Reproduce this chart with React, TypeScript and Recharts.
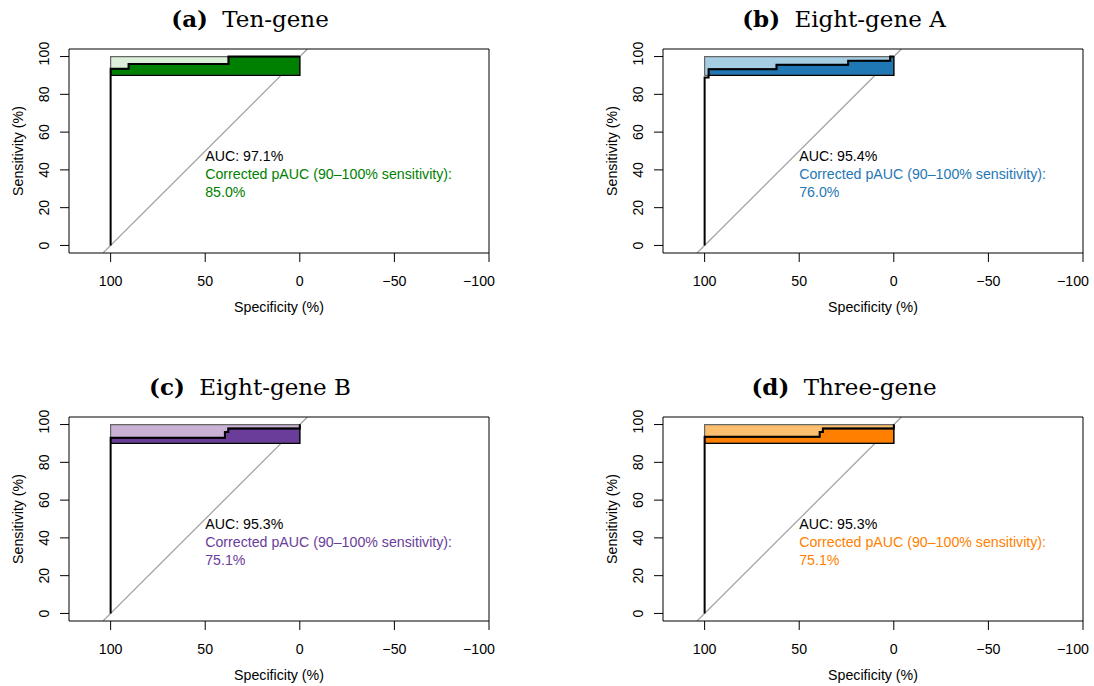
import {
  ComposedChart,
  Area,
  Line,
  XAxis,
  YAxis,
  ReferenceArea,
  ReferenceDot,
} from "recharts";

// axes
const SPEC_TICKS = [100, 50, 0, -50, -100];
const SENS_TICKS = [0, 20, 40, 60, 80, 100];
const SPEC_DOMAIN = [-100, 122];
const SENS_DOMAIN = [-4, 104];

// partial AUC band (sensitivity) and specificity span of the shaded box
const PAUC_LOW = 90;
const PAUC_HIGH = 100;
const SPEC_FULL = 100;
const SPEC_NONE = 0;

// ROC curves (specificity %, sensitivity %)
const TEN_SPEC = [100, 100, 90.5, 90.5, 37.7, 37.7, 0];
const TEN_SENS = [0, 93.5, 93.5, 96.1, 96.1, 100, 100];

const EIGHT_A_SPEC = [100, 100, 97.9, 97.9, 62, 62, 24.1, 24.1, 1.9, 1.9, 0];
const EIGHT_A_SENS = [0, 88.9, 88.9, 93.3, 93.3, 95.6, 95.6, 97.8, 97.8, 100, 100];

const EIGHT_B_SPEC = [100, 100, 39.6, 39.6, 37.8, 37.8, 0, 0];
const EIGHT_B_SENS = [0, 93, 93, 96, 96, 97.9, 97.9, 100];

const THREE_SPEC = [100, 100, 39.2, 39.2, 37.5, 37.5, 0, 0];
const THREE_SENS = [0, 93.5, 93.5, 96.1, 96.1, 97.9, 97.9, 100];

const PANEL_LETTERS = ["a", "b", "c", "d"];
const PANEL_NAMES = ["Ten-gene", "Eight-gene A", "Eight-gene B", "Three-gene"];
const AUC_VALUES = ["97.1", "95.4", "95.3", "95.3"];
const PAUC_VALUES = ["85.0", "76.0", "75.1", "75.1"];
const DARK_COLORS = ["#008000", "#1f78b4", "#6a3d9a", "#ff7f00"];
const LIGHT_COLORS = ["#dcefd8", "#a6cee3", "#cab2d6", "#fdbf6f"];

const SANS = "'Liberation Sans', Arial, sans-serif";
const FS = 14.2;

type Pt = { spec: number; sens: number };

function toPoints(spec: number[], sens: number[]): Pt[] {
  return spec.map((s, i) => ({ spec: s, sens: sens[i] }));
}

// part of the curve that lies inside the sensitivity band
function bandTop(pts: Pt[]): Pt[] {
  const out: Pt[] = [];
  pts.forEach((p, i) => {
    if (p.sens < PAUC_LOW) return;
    const prev = pts[i - 1];
    if (prev && prev.sens < PAUC_LOW) {
      const t = (PAUC_LOW - prev.sens) / (p.sens - prev.sens);
      out.push({ spec: prev.spec + t * (p.spec - prev.spec), sens: PAUC_LOW });
    }
    out.push(p);
  });
  return out;
}

// identity line (sens = 100 - spec) across the plotting region
const DIAGONAL: Pt[] = [
  { spec: 100 - SENS_DOMAIN[0], sens: SENS_DOMAIN[0] },
  { spec: 100 - SENS_DOMAIN[1], sens: SENS_DOMAIN[1] },
];

function SpecTick(props: any) {
  const v = props.payload.value;
  const label = v < 0 ? `\u2212${-v}` : `${v}`;
  const last = v === SPEC_TICKS[SPEC_TICKS.length - 1];
  return (
    <text
      x={last ? props.x + 6 : props.x}
      y={props.y + 24}
      textAnchor={last ? "end" : "middle"}
      fontFamily={SANS}
      fontSize={FS}
      fill="#000"
    >
      {label}
    </text>
  );
}

function SensTick(props: any) {
  const x = props.x - 11;
  const y = props.payload.value === 100 ? props.y - 3 : props.y;
  return (
    <text
      x={x}
      y={y}
      transform={`rotate(-90, ${x}, ${y})`}
      textAnchor="middle"
      fontFamily={SANS}
      fontSize={FS}
      fill="#000"
    >
      {props.payload.value}
    </text>
  );
}

function RocPanel({ idx, spec, sens }: { idx: number; spec: number[]; sens: number[] }) {
  const roc = toPoints(spec, sens);
  const top = bandTop(roc);
  const first = top[0];
  const last = top[top.length - 1];
  const darkOutline = [
    ...top,
    { spec: last.spec, sens: PAUC_LOW },
    { spec: first.spec, sens: PAUC_LOW },
  ];
  const maxTop = [
    { spec: SPEC_FULL, sens: PAUC_HIGH },
    { spec: SPEC_NONE, sens: PAUC_HIGH },
  ];
  const maxOutline = [
    { spec: SPEC_FULL, sens: PAUC_LOW },
    ...maxTop,
    { spec: SPEC_NONE, sens: PAUC_LOW },
    { spec: SPEC_FULL, sens: PAUC_LOW },
  ];
  const color = DARK_COLORS[idx];

  return (
    <div style={{ position: "relative", width: 510, height: 340 }}>
      <div
        style={{
          position: "absolute",
          left: 0,
          top: 4,
          width: 500,
          textAlign: "center",
          fontFamily: "'DejaVu Serif', serif",
          fontSize: 23,
          lineHeight: "30px",
          whiteSpace: "nowrap",
        }}
      >
        <b style={{ marginRight: 7 }}>({PANEL_LETTERS[idx]})</b> {PANEL_NAMES[idx]}
      </div>
      <ComposedChart
        width={510}
        height={330}
        margin={{ top: 49, right: 21, bottom: 0, left: 0 }}
      >
        <XAxis
          dataKey="spec"
          type="number"
          domain={SPEC_DOMAIN}
          reversed
          allowDataOverflow
          ticks={SPEC_TICKS}
          interval={0}
          axisLine={false}
          tickSize={9}
          tickMargin={0}
          tickLine={{ stroke: "#000" }}
          tick={<SpecTick />}
          height={77}
          label={{
            content: (p: any) => (
              <text
                x={p.viewBox.x + p.viewBox.width / 2}
                y={p.viewBox.y + 58.7}
                textAnchor="middle"
                fontFamily={SANS}
                fontSize={FS}
                fill="#000"
              >
                Specificity (%)
              </text>
            ),
          }}
        />
        <YAxis
          dataKey="sens"
          type="number"
          domain={SENS_DOMAIN}
          allowDataOverflow
          ticks={SENS_TICKS}
          interval={0}
          axisLine={false}
          tickSize={9}
          tickMargin={0}
          tickLine={{ stroke: "#000" }}
          tick={<SensTick />}
          width={69}
          label={{
            content: (p: any) => {
              const cx = 23;
              const cy = p.viewBox.y + p.viewBox.height / 2;
              return (
                <text
                  x={cx}
                  y={cy}
                  transform={`rotate(-90, ${cx}, ${cy})`}
                  textAnchor="middle"
                  fontFamily={SANS}
                  fontSize={FS}
                  fill="#000"
                >
                  Sensitivity (%)
                </text>
              );
            },
          }}
        />
        {/* identity line as an unfilled Area so the pAUC polygons cover it */}
        <Area
          data={DIAGONAL}
          dataKey="sens"
          type="linear"
          fill="none"
          stroke="#a0a0a0"
          strokeWidth={1.2}
          isAnimationActive={false}
        />
        <Area
          data={maxTop}
          dataKey="sens"
          type="linear"
          baseValue={PAUC_LOW}
          fill={LIGHT_COLORS[idx]}
          fillOpacity={1}
          stroke="none"
          isAnimationActive={false}
        />
        <Area
          data={top}
          dataKey="sens"
          type="linear"
          baseValue={PAUC_LOW}
          fill={color}
          fillOpacity={1}
          stroke="none"
          isAnimationActive={false}
        />
        <Line
          data={maxOutline}
          dataKey="sens"
          type="linear"
          stroke="#666666"
          strokeWidth={1.2}
          dot={false}
          isAnimationActive={false}
        />
        <Line
          data={darkOutline}
          dataKey="sens"
          type="linear"
          stroke="#000"
          strokeWidth={1.3}
          dot={false}
          isAnimationActive={false}
        />
        <Line
          data={roc}
          dataKey="sens"
          type="linear"
          stroke="#000"
          strokeWidth={2}
          dot={false}
          isAnimationActive={false}
        />
        <ReferenceDot
          x={50}
          y={50}
          r={0}
          shape={(p: any) => (
            <g fontFamily={SANS} fontSize={FS}>
              <text x={p.cx} y={p.cy + 10} fill="#000">
                AUC: {AUC_VALUES[idx]}%
              </text>
              <text x={p.cx} y={p.cy + 28.3} fill={color}>
                Corrected pAUC (90–100% sensitivity):
              </text>
              <text x={p.cx} y={p.cy + 45.5} fill={color}>
                {PAUC_VALUES[idx]}%
              </text>
            </g>
          )}
        />
        <ReferenceArea
          x1={SPEC_DOMAIN[0]}
          x2={SPEC_DOMAIN[1]}
          y1={SENS_DOMAIN[0]}
          y2={SENS_DOMAIN[1]}
          fill="none"
          stroke="#000"
          strokeWidth={1}
        />
      </ComposedChart>
    </div>
  );
}

export default function App() {
  const panels = [
    { spec: TEN_SPEC, sens: TEN_SENS },
    { spec: EIGHT_A_SPEC, sens: EIGHT_A_SENS },
    { spec: EIGHT_B_SPEC, sens: EIGHT_B_SENS },
    { spec: THREE_SPEC, sens: THREE_SENS },
  ];
  const lefts = [0, 594, 0, 594];
  const tops = [0, 0, 368, 368];
  return (
    <div
      style={{
        position: "absolute",
        left: 0,
        top: 0,
        width: 1094,
        height: 686,
        background: "#fff",
        overflow: "hidden",
      }}
    >
      {panels.map((p, i) => (
        <div key={i} style={{ position: "absolute", left: lefts[i], top: tops[i] }}>
          <RocPanel idx={i} spec={p.spec} sens={p.sens} />
        </div>
      ))}
    </div>
  );
}
